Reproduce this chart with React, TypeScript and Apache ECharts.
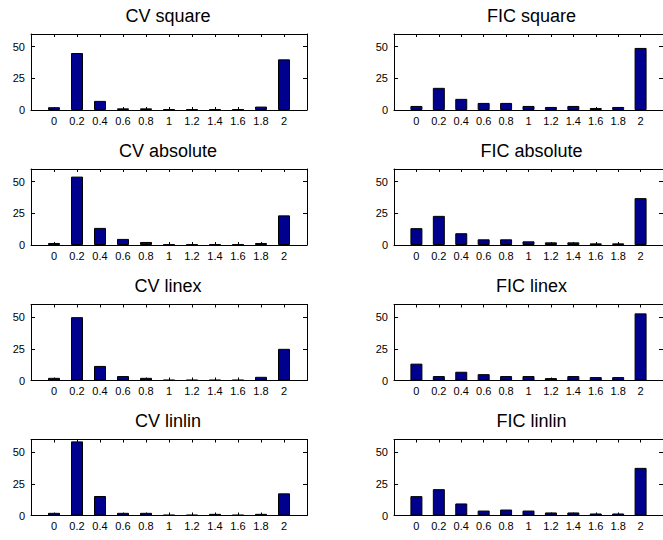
import React, { useEffect, useRef } from "react";
import * as echarts from "echarts";

const binCenters = [0, 0.2, 0.4, 0.6, 0.8, 1, 1.2, 1.4, 1.6, 1.8, 2];
const xTickLabels = [0, 0.2, 0.4, 0.6, 0.8, 1, 1.2, 1.4, 1.6, 1.8, 2];
const yTickLabels = [0, 25, 50];

const titles = [
  "CV square", "FIC square",
  "CV absolute", "FIC absolute",
  "CV linex", "FIC linex",
  "CV linlin", "FIC linlin",
];

const cvSquare = [2.2, 45, 7.2, 1.3, 1.3, 0.5, 0.5, 0.5, 0.5, 2.7, 40];
const ficSquare = [3.2, 17.5, 8.8, 5.6, 5.6, 3.2, 2.4, 3.2, 1.6, 2.4, 49];
const cvAbsolute = [1.6, 54, 13.5, 4.8, 2.4, 0.5, 0.5, 0.5, 0.5, 1.6, 23.4];
const ficAbsolute = [13.3, 23, 9.3, 4.5, 4.5, 2.9, 2.1, 2.1, 1.3, 1.3, 37];
const cvLinex = [2.1, 50, 11.5, 3.5, 2.1, 0.5, 0.5, 0.5, 0.5, 2.9, 25];
const ficLinex = [13.3, 3.5, 6.9, 5, 3.5, 3.5, 1.9, 3.5, 2.7, 2.7, 53];
const cvLinlin = [2.1, 58.5, 15.4, 2.1, 2.1, 0.5, 0.5, 1.3, 0.5, 1.3, 17.5];
const ficLinlin = [15.3, 20.8, 9.5, 3.9, 4.7, 3.9, 2.4, 2.4, 1.6, 1.6, 37.6];

const seriesValues = [
  cvSquare, ficSquare,
  cvAbsolute, ficAbsolute,
  cvLinex, ficLinex,
  cvLinlin, ficLinlin,
];

const FONT = "Arial, 'Liberation Sans', Helvetica, sans-serif";

export default function App() {
  const ref = useRef<HTMLDivElement>(null);

  useEffect(() => {
    if (!ref.current) return;
    const chart = echarts.init(ref.current, null, { renderer: "svg" });

    const colLeft = [31, 394];
    const colWidth = [276, 277];
    const rowTop = [34, 169, 304.5, 439.5];
    const gridH = 76;

    const grids: any[] = [];
    const xAxes: any[] = [];
    const yAxes: any[] = [];
    const series: any[] = [];
    const graphics: any[] = [];

    titles.forEach((t, i) => {
      const r = Math.floor(i / 2);
      const c = i % 2;
      grids.push({
        left: colLeft[c],
        top: rowTop[r],
        width: colWidth[c],
        height: gridH,
        show: false,
      });
      const lineStyle = { color: "#000", width: 1 };
      xAxes.push({
        gridIndex: i,
        type: "value",
        min: -0.2,
        max: 2.2,
        position: "bottom",
        axisLine: { show: true, onZero: false, lineStyle },
        axisTick: { show: true, inside: true, length: 3, customValues: xTickLabels, lineStyle },
        axisLabel: {
          show: true,
          customValues: xTickLabels,
          fontSize: 11,
          fontFamily: FONT,
          color: "#000",
          margin: 5,
          formatter: (v: number) => String(Math.round(v * 10) / 10),
        },
        splitLine: { show: false },
      });
      xAxes.push({
        gridIndex: i,
        type: "value",
        min: -0.2,
        max: 2.2,
        position: "top",
        axisLine: { show: true, onZero: false, lineStyle },
        axisTick: { show: true, inside: true, length: 3, customValues: xTickLabels, lineStyle },
        axisLabel: { show: false },
        splitLine: { show: false },
      });
      yAxes.push({
        gridIndex: i,
        type: "value",
        min: 0,
        max: 60,
        position: "left",
        axisLine: { show: true, onZero: false, lineStyle },
        axisTick: { show: true, inside: true, length: 4, customValues: yTickLabels, lineStyle },
        axisLabel: {
          show: true,
          customValues: yTickLabels,
          fontSize: 11,
          fontFamily: FONT,
          color: "#000",
          margin: 6,
        },
        splitLine: { show: false },
      });
      yAxes.push({
        gridIndex: i,
        type: "value",
        min: 0,
        max: 60,
        position: "right",
        axisLine: { show: true, onZero: false, lineStyle },
        axisTick: { show: true, inside: true, length: 4, customValues: yTickLabels, lineStyle },
        axisLabel: { show: false },
        splitLine: { show: false },
      });
      series.push({
        type: "bar",
        xAxisIndex: 2 * i,
        yAxisIndex: 2 * i,
        barWidth: 12,
        data: binCenters.map((x, j) => [x, seriesValues[i][j]]),
        itemStyle: { color: "#00008F", borderColor: "#000", borderWidth: 1 },
        silent: true,
      });
      graphics.push({
        type: "text",
        x: colLeft[c] + colWidth[c] / 2 - 1,
        y: 15.5 + 135.2 * r,
        style: {
          text: t,
          fontSize: 18,
          fontFamily: FONT,
          fill: "#000",
          align: "center",
          verticalAlign: "middle",
        },
      });
    });

    chart.setOption({
      animation: false,
      backgroundColor: "#fff",
      grid: grids,
      xAxis: xAxes,
      yAxis: yAxes,
      series,
      graphic: graphics,
    });

    return () => chart.dispose();
  }, []);

  return (
    <div
      ref={ref}
      style={{ position: "absolute", left: 0, top: 0, width: 663, height: 540 }}
    />
  );
}
